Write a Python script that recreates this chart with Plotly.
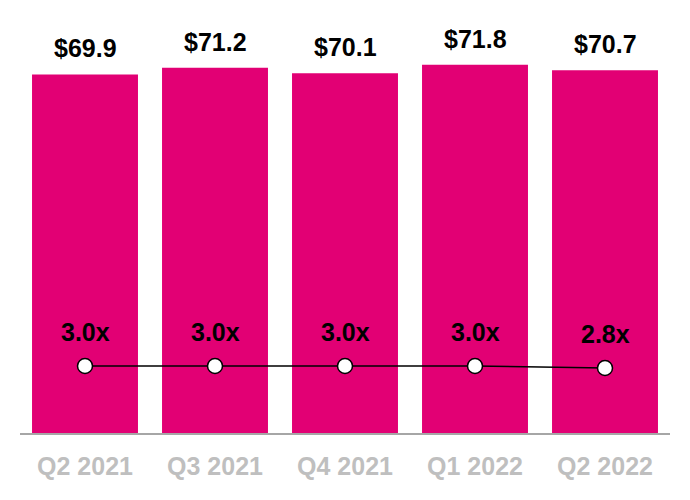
import plotly.graph_objects as go

categories = ["Q2 2021", "Q3 2021", "Q4 2021", "Q1 2022", "Q2 2022"]
bar_values = [69.9, 71.2, 70.1, 71.8, 70.7]
bar_labels = ["$69.9", "$71.2", "$70.1", "$71.8", "$70.7"]
ratio_values = [3.0, 3.0, 3.0, 3.0, 2.8]
ratio_labels = ["3.0x", "3.0x", "3.0x", "3.0x", "2.8x"]

MAGENTA = "#E20074"
FONT = "Liberation Sans, Arial, sans-serif"

fig = go.Figure()
fig.add_trace(go.Bar(
    x=categories, y=bar_values, marker=dict(color=MAGENTA, line=dict(width=0)),
    hoverinfo="skip", showlegend=False,
))
fig.add_trace(go.Scatter(
    x=categories, y=ratio_values, yaxis="y2", mode="lines+markers",
    line=dict(color="black", width=1.5),
    marker=dict(size=15, color="white", line=dict(color="black", width=1.5)),
    hoverinfo="skip", showlegend=False, cliponaxis=False,
))

annotations = []
for c, v, t in zip(categories, bar_values, bar_labels):
    annotations.append(dict(x=c, y=v, xref="x", yref="y", text="<b>%s</b>" % t,
                            showarrow=False, yanchor="middle", yshift=26,
                            font=dict(family=FONT, size=25, color="black")))
for c, v, t in zip(categories, ratio_values, ratio_labels):
    annotations.append(dict(x=c, y=v, xref="x", yref="y2", text="<b>%s</b>" % t,
                            showarrow=False, yanchor="middle", yshift=34,
                            font=dict(family=FONT, size=25, color="black")))

fig.update_layout(
    width=690, height=500,
    margin=dict(l=20, r=20, t=0, b=67),
    paper_bgcolor="white", plot_bgcolor="white",
    bargap=0.185,
    font=dict(family=FONT),
    annotations=annotations,
    xaxis=dict(
        showgrid=False, zeroline=False, showline=True, linecolor="#A6A6A6", linewidth=2,
        ticks="", tickfont=dict(family=FONT, size=25, color="#BFBFBF"),
        tickprefix="<b>", ticksuffix="</b>", ticklabelstandoff=10,
    ),
    yaxis=dict(range=[0, 84.4], visible=False, showgrid=False, zeroline=False),
    yaxis2=dict(range=[-3.7, 39.6], overlaying="y", visible=False, showgrid=False, zeroline=False),
)

fig.write_html("out.html")
